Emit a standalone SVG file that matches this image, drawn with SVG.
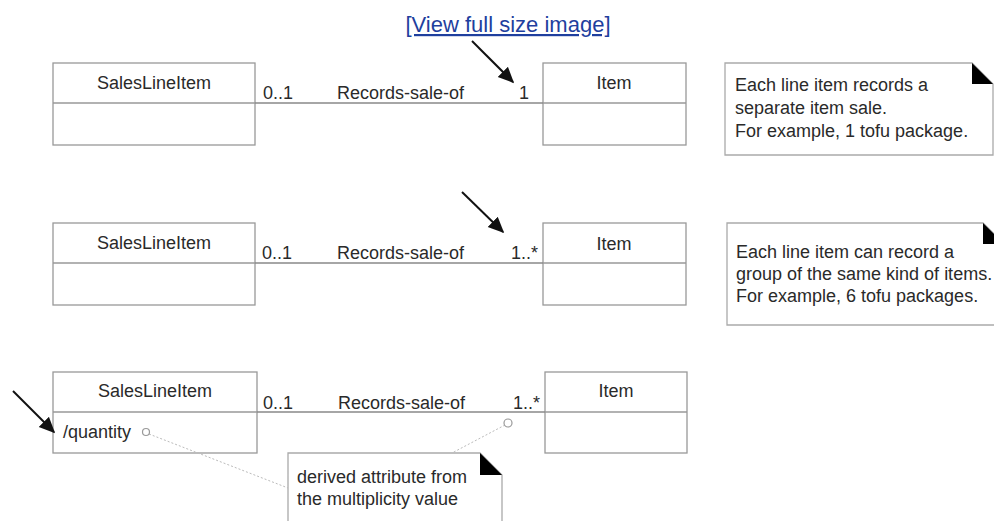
<svg xmlns="http://www.w3.org/2000/svg" width="994" height="521" viewBox="0 0 994 521">
<style>
  text { font-family: "Liberation Sans", Arial, sans-serif; font-size: 18px; fill: #2a2a2a; }
  .box { fill: #fff; stroke: #999; stroke-width: 1.3; }
  .div { stroke: #999; stroke-width: 1.3; }
  .assoc { stroke: #888; stroke-width: 1.3; fill: none; }
  .note { fill: #fff; stroke: #aaa; stroke-width: 1.3; }
  .fold { fill: #000; }
  .dot { stroke: #bbb; stroke-width: 1; stroke-dasharray: 2 2; fill: none; }
  .circ { fill: #fff; stroke: #999; stroke-width: 1.2; }
  .ptr { stroke: #111; stroke-width: 2; fill: none; }
  .c { text-anchor: middle; }
  .link { font-size: 22px; fill: #1f3f9e; text-decoration: underline; }
</style>
<defs>
  <marker id="ahb" viewBox="0 0 10 10" refX="9" refY="5" markerWidth="8" markerHeight="8" orient="auto">
    <path d="M0,0.5 L10,5 L0,9.5 Z" fill="#111"/>
  </marker>
</defs>

<text id="link" class="link c" x="508" y="32">[View full size image]</text>

<g id="sli1">
  <rect class="box" x="53" y="63" width="202" height="82"/>
  <line class="div" x1="53" y1="103" x2="255" y2="103"/>
  <text class="c" x="154" y="89">SalesLineItem</text>
</g>
<g id="item1">
  <rect class="box" x="543" y="63" width="143" height="82"/>
  <line class="div" x1="543" y1="103" x2="686" y2="103"/>
  <text class="c" x="614" y="89">Item</text>
</g>
<g id="note1">
  <path class="note" d="M725,63 H972 L993,84 V155 H725 Z"/>
  <path class="fold" d="M972,63 L972,84 L993,84 Z"/>
  <text x="735" y="91">Each line item records a</text>
  <text x="735" y="114">separate item sale.</text>
  <text x="735" y="137">For example, 1 tofu package.</text>
</g>

<g id="sli2">
  <rect class="box" x="53" y="223" width="202" height="82"/>
  <line class="div" x1="53" y1="263" x2="255" y2="263"/>
  <text class="c" x="154" y="249">SalesLineItem</text>
</g>
<g id="item2">
  <rect class="box" x="543" y="223" width="143" height="82"/>
  <line class="div" x1="543" y1="263" x2="686" y2="263"/>
  <text class="c" x="614" y="250">Item</text>
</g>
<g id="note2">
  <path class="note" d="M727,223 H983 L1004,244 V325 H727 Z"/>
  <path class="fold" d="M983,223 L983,244 L1004,244 Z"/>
  <text x="736" y="258">Each line item can record a</text>
  <text x="736" y="280">group of the same kind of items.</text>
  <text x="736" y="302">For example, 6 tofu packages.</text>
</g>

<g id="sli3">
  <rect class="box" x="53" y="372" width="204" height="81"/>
  <line class="div" x1="53" y1="412" x2="257" y2="412"/>
  <text class="c" x="155" y="397">SalesLineItem</text>
  <text x="63" y="438">/quantity</text>
</g>
<g id="item3">
  <rect class="box" x="545" y="372" width="142" height="81"/>
  <line class="div" x1="545" y1="412" x2="687" y2="412"/>
  <text class="c" x="616" y="397">Item</text>
</g>
<g id="note3">
  <path class="note" d="M288,453 H480 L502,475 V530 H288 Z"/>
  <path class="fold" d="M480,453 L480,475 L502,475 Z"/>
  <text x="297" y="483">derived attribute from</text>
  <text x="297" y="505">the multiplicity value</text>
</g>

<g id="connectors">
  <line class="assoc" x1="255" y1="103" x2="543" y2="103"/>
  <line class="assoc" x1="255" y1="263" x2="543" y2="263"/>
  <line class="assoc" x1="257" y1="412" x2="545" y2="412"/>
  <line class="dot" x1="149" y1="434" x2="288" y2="488"/>
  <line class="dot" x1="505" y1="425" x2="452" y2="453"/>
  <circle class="circ" cx="146" cy="432" r="3.5"/>
  <circle class="circ" cx="508" cy="423" r="4"/>
  <line class="ptr" x1="472" y1="41" x2="513" y2="82" marker-end="url(#ahb)"/>
  <line class="ptr" x1="462" y1="192" x2="503" y2="232" marker-end="url(#ahb)"/>
  <line class="ptr" x1="13" y1="391" x2="54" y2="432" marker-end="url(#ahb)"/>
  <g id="assoc-labels">
    <text x="263" y="99">0..1</text>
    <text x="337" y="99">Records-sale-of</text>
    <text x="519" y="99">1</text>
    <text x="262" y="259">0..1</text>
    <text x="337" y="259">Records-sale-of</text>
    <text x="511" y="259">1..*</text>
    <text x="263" y="409">0..1</text>
    <text x="338" y="409">Records-sale-of</text>
    <text x="513" y="409">1..*</text>
  </g>
</g>
</svg>
